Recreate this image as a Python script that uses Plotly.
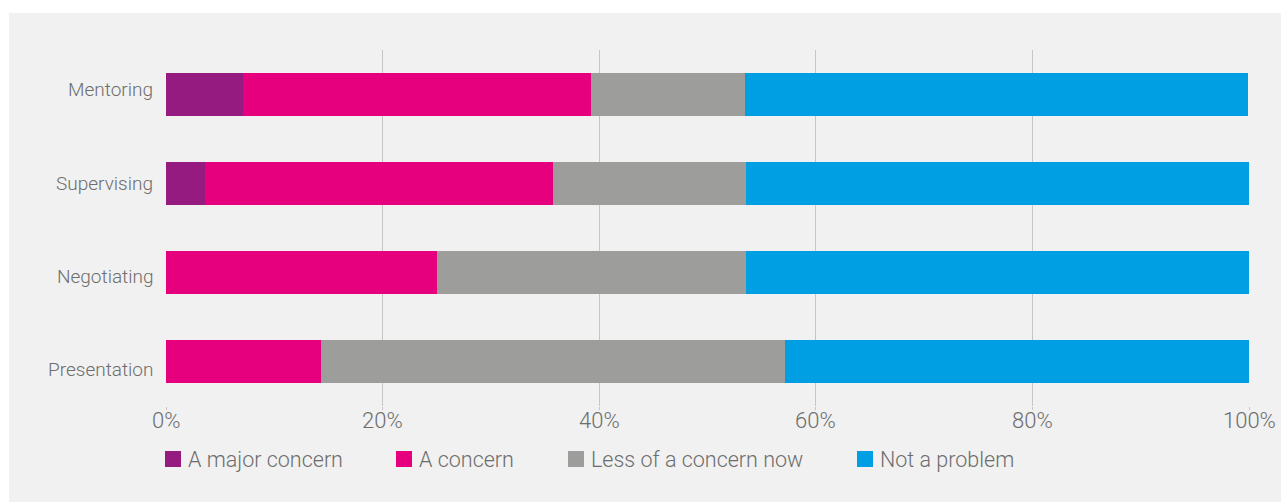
import plotly.graph_objects as go

# Share of respondents (%) per skill area, n = 28
skills = ["Mentoring", "Supervising", "Negotiating", "Presentation"]
series_names = ["A major concern", "A concern", "Less of a concern now", "Not a problem"]
major_concern = [7.1, 3.6, 0.0, 0.0]
concern = [32.1, 32.1, 25.0, 14.3]
less_concern = [14.3, 17.9, 28.6, 42.9]
not_problem = [46.4, 46.4, 46.4, 42.9]
series_values = [major_concern, concern, less_concern, not_problem]
series_colors = ["#951b81", "#e6007e", "#9d9d9c", "#009fe3"]

x_ticks = [0, 20, 40, 60, 80, 100]
x_tick_labels = ["0%", "20%", "40%", "60%", "80%", "100%"]

W, H = 1281, 502
M_L, M_R, M_T, M_B = 166, 32, 50, 96
PW, PH = W - M_L - M_R, H - M_T - M_B

TEXT = "#6d6d6d"
FONT = "Roboto"


def px_x(p):
    return (p - M_L) / PW


def px_y(p):
    return (H - M_B - p) / PH


fig = go.Figure()
for name, vals, col in zip(series_names, series_values, series_colors):
    fig.add_trace(go.Bar(
        y=skills, x=vals, name=name, orientation="h",
        marker=dict(color=col, line=dict(width=0)),
        showlegend=False,
    ))

shapes = [
    # panel background
    dict(type="rect", xref="paper", yref="paper",
         x0=px_x(9), x1=px_x(W + 2), y0=px_y(H + 2), y1=px_y(13),
         fillcolor="#f1f1f1", line=dict(width=0), layer="below"),
]
annotations = []

# category labels, set slightly apart from the bar centres
label_y = [89, 183, 276, 369]
for name, y in zip(skills, label_y):
    annotations.append(dict(xref="paper", yref="paper",
                            x=px_x(155), y=px_y(y),
                            xanchor="right", yanchor="middle",
                            text=name, showarrow=False,
                            font=dict(family=FONT, size=19, color=TEXT, weight=300)))

# percentage labels under the grid lines
for v, t in zip(x_ticks, x_tick_labels):
    annotations.append(dict(xref="x", yref="paper",
                            x=v, y=px_y(420),
                            xanchor="center", yanchor="middle",
                            text=t, showarrow=False,
                            font=dict(family=FONT, size=22, color=TEXT, weight=300)))

# legend row drawn beneath the axis
legend_box_left = [165, 396, 568, 857]
for name, col, left in zip(series_names, series_colors, legend_box_left):
    shapes.append(dict(type="rect", xref="paper", yref="paper",
                       x0=px_x(left), x1=px_x(left + 16),
                       y0=px_y(467), y1=px_y(451),
                       fillcolor=col, line=dict(width=0)))
    annotations.append(dict(xref="paper", yref="paper",
                            x=px_x(left + 21), y=px_y(459.5),
                            xanchor="left", yanchor="middle",
                            text=name, showarrow=False,
                            font=dict(family=FONT, size=21.5, color=TEXT, weight=300)))

fig.update_layout(
    width=W, height=H,
    margin=dict(l=M_L, r=M_R, t=M_T, b=M_B, autoexpand=False),
    paper_bgcolor="white",
    plot_bgcolor="rgba(0,0,0,0)",
    barmode="stack",
    bargap=0.52,
    shapes=shapes,
    annotations=annotations,
    font=dict(family=FONT, color=TEXT),
    xaxis=dict(
        range=[0, 100], tickvals=x_ticks, showticklabels=False,
        showgrid=True, gridcolor="#c6c6c6", gridwidth=1.3,
        zeroline=False, showline=False,
        ticks="outside", ticklen=3, tickcolor="#c6c6c6", tickwidth=1.3,
        automargin=False, fixedrange=True,
    ),
    yaxis=dict(
        categoryorder="array", categoryarray=skills, autorange="reversed",
        showgrid=False, zeroline=False, showline=False,
        ticks="", showticklabels=False,
        automargin=False, fixedrange=True,
    ),
)

fig.write_html("out.html")
